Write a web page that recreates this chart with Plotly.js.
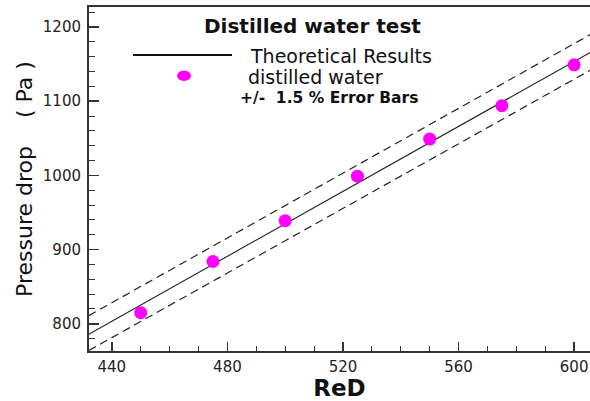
<!DOCTYPE html>
<html>
<head>
<meta charset="utf-8">
<script src="https://cdn.plot.ly/plotly-3.0.1.min.js"></script>
<style>
html,body{margin:0;padding:0;overflow:hidden;background:#fff;}
#chart{width:590px;height:401px;}
</style>
</head>
<body>
<div id="chart"></div>
<script>
// Measured data (distilled water)
const reD = [450, 475, 500, 525, 550, 575, 600];
const pressureDrop = [815, 884, 939, 999, 1049, 1094, 1149];

// Theoretical line and +/- error band, end points
const theoryX = [432, 608];
const theoryY = [786, 1171];
const upperY = [811, 1195];
const lowerY = [764, 1147];

// Axis ticks
const xTicks = [440, 480, 520, 560, 600];
const yTicks = [800, 900, 1000, 1100, 1200];

// Text
const chartTitle = "Distilled water test";
const legendLine = "Theoretical Results";
const legendMarker = "distilled water";
const legendBand = "+/-\u00a0\u00a01.5 % Error Bars";

const MAG = "#ff00ff";
const AX = "#333333";

const traces = [
  {x: theoryX, y: upperY, mode: "lines", line: {color: "#222", width: 1.2, dash: "8px,5px"}, hoverinfo: "skip"},
  {x: theoryX, y: lowerY, mode: "lines", line: {color: "#222", width: 1.2, dash: "8px,5px"}, hoverinfo: "skip"},
  {x: theoryX, y: theoryY, mode: "lines", line: {color: "#222", width: 1.1}, name: legendLine},
  {x: reD, y: pressureDrop, mode: "markers", marker: {color: MAG, size: 13, line: {width: 0}}, name: legendMarker}
];

// pixel -> paper helpers (plot area: x 89..590, y 7..351.5)
const L = 89, R = 590, T = 7, B = 351.5;
const px = v => (v - L) / (R - L);
const py = v => (B - v) / (B - T);

const tickFont = {family: "DejaVu Sans", size: 15, color: "#222"};

const layout = {
  width: 590, height: 401,
  margin: {l: L, r: 0, t: T, b: 401 - B},
  paper_bgcolor: "#fff", plot_bgcolor: "#fff",
  showlegend: false,
  xaxis: {
    range: [432.1, 605.5],
    tickvals: xTicks, ticktext: xTicks.map(String),
    ticks: "inside", ticklen: 9, tickwidth: 1.5, tickcolor: AX,
    minor: {dtick: 10, tick0: 440, ticks: "inside", ticklen: 5, tickwidth: 1, tickcolor: AX, showgrid: false},
    showline: true, linecolor: AX, linewidth: 2, mirror: true,
    showgrid: false, zeroline: false,
    tickfont: tickFont, ticklabelstandoff: 1,
    title: {text: "ReD", font: {family: "DejaVu Sans", size: 23, weight: "bold", color: "#111"}, standoff: 12},
    automargin: false
  },
  yaxis: {
    range: [763.4, 1226.9],
    tickvals: yTicks, ticktext: yTicks.map(String),
    ticks: "inside", ticklen: 10, tickwidth: 1.5, tickcolor: AX,
    minor: {dtick: 20, tick0: 800, ticks: "inside", ticklen: 6, tickwidth: 1, tickcolor: AX, showgrid: false},
    showline: true, linecolor: AX, linewidth: 2, mirror: false,
    showgrid: false, zeroline: false,
    tickfont: tickFont, ticklabelstandoff: 3,
    title: {text: "Pressure drop\u00a0\u00a0\u00a0\u00a0( Pa )", font: {family: "DejaVu Sans", size: 22, color: "#111"}, standoff: 4},
    automargin: false
  },
  shapes: [
    {type: "line", xref: "paper", yref: "paper", x0: px(133), x1: px(232), y0: py(55), y1: py(55), line: {color: "#111", width: 2}},
    {type: "circle", xref: "paper", yref: "paper", x0: px(177), x1: px(191), y0: py(81), y1: py(70.5), fillcolor: MAG, line: {width: 0}}
  ],
  annotations: [
    {text: "<b>" + chartTitle + "</b>", xref: "paper", yref: "paper", x: px(312), y: py(26), xanchor: "center", yanchor: "middle", showarrow: false, font: {family: "DejaVu Sans", size: 20, color: "#111"}},
    {text: legendLine, xref: "paper", yref: "paper", x: px(248), y: py(56.5), xanchor: "left", yanchor: "middle", showarrow: false, font: {family: "DejaVu Sans", size: 19, color: "#111"}},
    {text: legendMarker, xref: "paper", yref: "paper", x: px(246), y: py(77.5), xanchor: "left", yanchor: "middle", showarrow: false, font: {family: "DejaVu Sans", size: 19, color: "#111"}},
    {text: "<b>" + legendBand + "</b>", xref: "paper", yref: "paper", x: px(238), y: py(98.5), xanchor: "left", yanchor: "middle", showarrow: false, font: {family: "DejaVu Sans", size: 15.5, color: "#111"}}
  ]
};

Plotly.newPlot("chart", traces, layout, {displayModeBar: false, staticPlot: true});
</script>
</body>
</html>
